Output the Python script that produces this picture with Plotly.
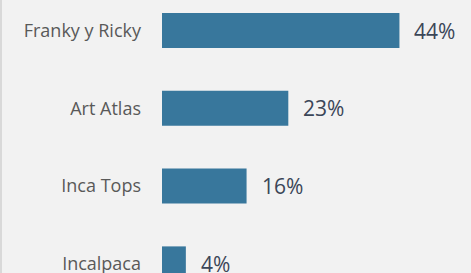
import plotly.graph_objects as go

categories = ["Franky y Ricky", "Art Atlas", "Inca Tops", "Incalpaca"]
values = [43.8, 23.3, 15.6, 4.4]
labels = ["44%", "23%", "16%", "4%"]

W, H = 471, 273
L = 162
fig = go.Figure(go.Bar(
    x=values, y=categories, orientation="h",
    marker=dict(color="#38779c", line=dict(width=0)),
    width=0.45,
    hoverinfo="skip",
))
annotations = [
    dict(x=v, y=c, text=t, xref="x", yref="y", xanchor="left", yanchor="middle",
         xshift=13, showarrow=False,
         font=dict(family="Open Sans", size=21, color="#3b4658"))
    for v, c, t in zip(values, categories, labels)
]
fig.update_layout(
    width=W, height=H,
    margin=dict(l=L, r=0, t=0, b=0, autoexpand=False),
    paper_bgcolor="#f2f2f2", plot_bgcolor="#f2f2f2",
    showlegend=False,
    xaxis=dict(range=[0, 57], visible=False, fixedrange=True, automargin=False),
    yaxis=dict(categoryorder="array", categoryarray=categories,
               range=[3.117, -0.392], showgrid=False, zeroline=False,
               showline=False, ticks="", ticklabelstandoff=20, automargin=False,
               fixedrange=True,
               tickfont=dict(family="Open Sans", size=18, color="#595959")),
    annotations=annotations,
    shapes=[dict(type="line", xref="paper", yref="paper",
                 x0=-(L - 1) / (W - L), x1=-(L - 1) / (W - L), y0=0, y1=1,
                 line=dict(color="#d9d9d9", width=2))],
)
fig.write_html("out.html", config={"displayModeBar": False},
               post_script="document.body.style.margin='0';document.body.style.background='#f2f2f2';")
